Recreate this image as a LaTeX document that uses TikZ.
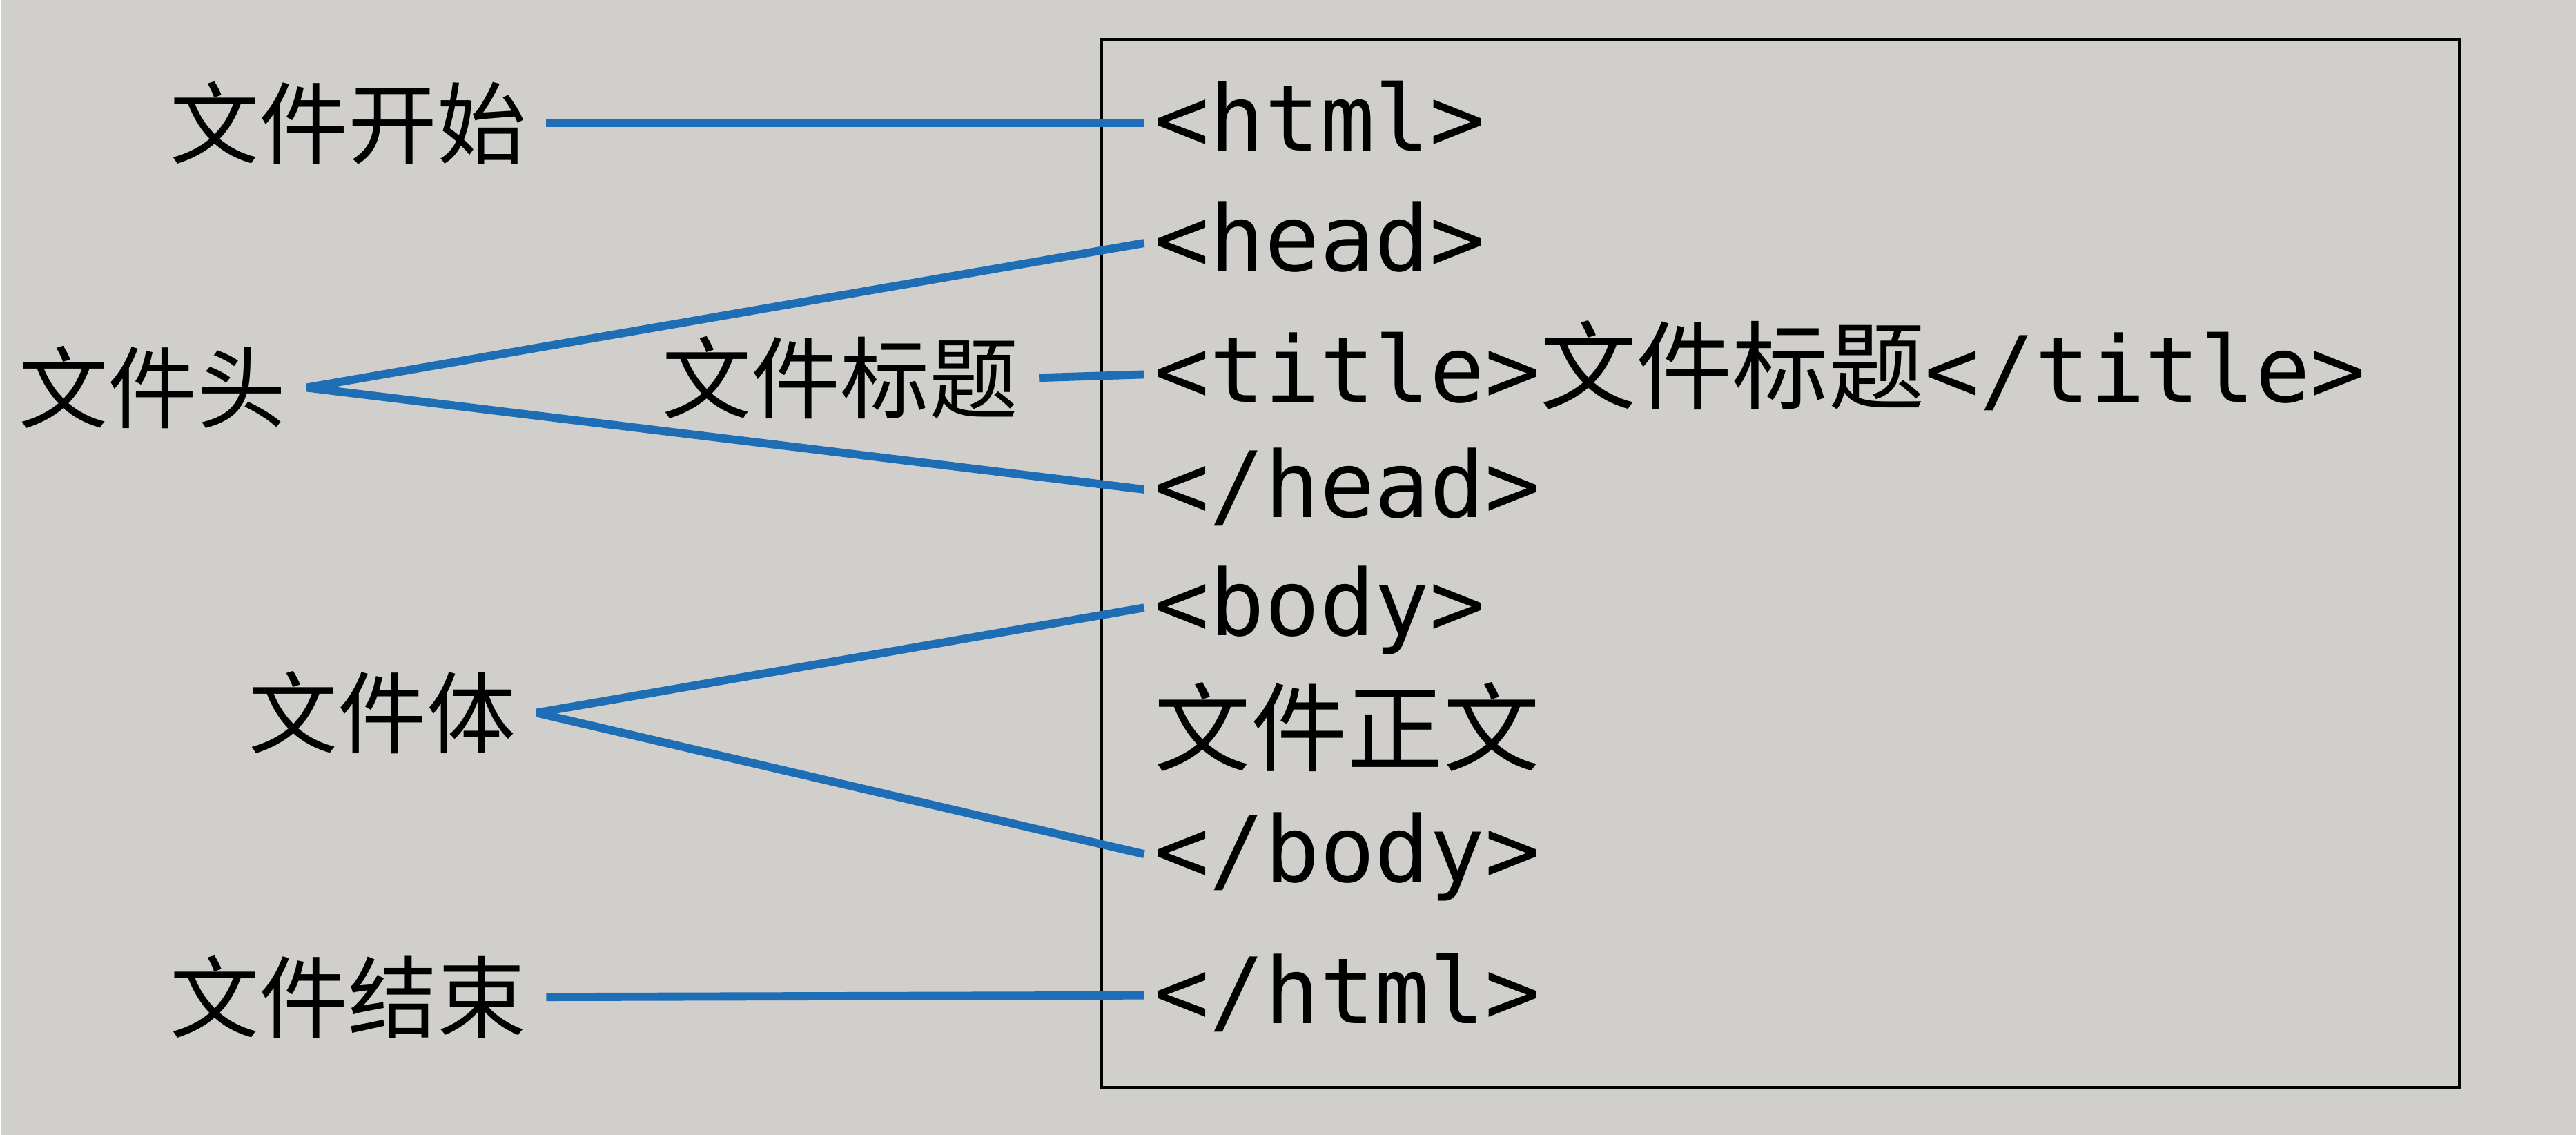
\documentclass[tikz,border=0pt]{standalone}
\usepackage{fontspec}
\newfontfamily\cjk{Noto Sans CJK SC}
\newfontfamily\mono{DejaVu Sans Mono}
\usetikzlibrary{positioning}
\definecolor{paper}{RGB}{208,207,203}
\definecolor{lineblue}{RGB}{30,110,182}
\newcommand{\zh}[1]{{\cjk\fontsize{20}{24}\selectfont #1}}
\tikzset{
  tag/.style={anchor=west, font=\mono\fontsize{19}{24}\selectfont,
    inner sep=2pt, text height=14pt, text depth=2.4pt},
  part/.style={anchor=east, font=\cjk\fontsize{18.5}{22}\selectfont, inner sep=4pt},
  link/.style={lineblue, line width=1.7pt},
}

\begin{document}
\begin{tikzpicture}[x=0.012cm,y=-0.012cm]
    \fill[paper] (0,0) rectangle (1568,691);
    \draw[line width=0.7pt] (670,24) rectangle (1497,662);

    % html source inside the box
    \node[tag] (html)    at (696,75)  {<html>};
    \node[tag] (head)    at (696,148) {<head>};
    \node[tag] (title)   at (696,228) {<title>\zh{文件标题}</title>};
    \node[tag] (ehead)   at (696,298) {</head>};
    \node[tag] (body)    at (696,370) {<body>};
    \node[tag] (text)    at (696,448) {\zh{文件正文}};
    \node[tag] (ebody)   at (696,520) {</body>};
    \node[tag] (ehtml)   at (696,606) {</html>};

    % labels on the left
    \node[part] (start)  at (332,75)  {文件开始};
    \node[part] (hd)     at (186,236) {文件头};
    \node[part] (ttl)    at (632,230) {文件标题};
    \node[part] (bd)     at (326,434) {文件体};
    \node[part] (end)    at (332,607) {文件结束};

    \draw[link] (start.east) -- (html.west);
    \draw[link] (hd.east) -- (head.west);
    \draw[link] (hd.east) -- (ehead.west);
    \draw[link] (ttl.east) -- (title.west);
    \draw[link] (bd.east) -- (body.west);
    \draw[link] (bd.east) -- (ebody.west);
    \draw[link] (end.east) -- (ehtml.west);
\end{tikzpicture}
\end{document}
